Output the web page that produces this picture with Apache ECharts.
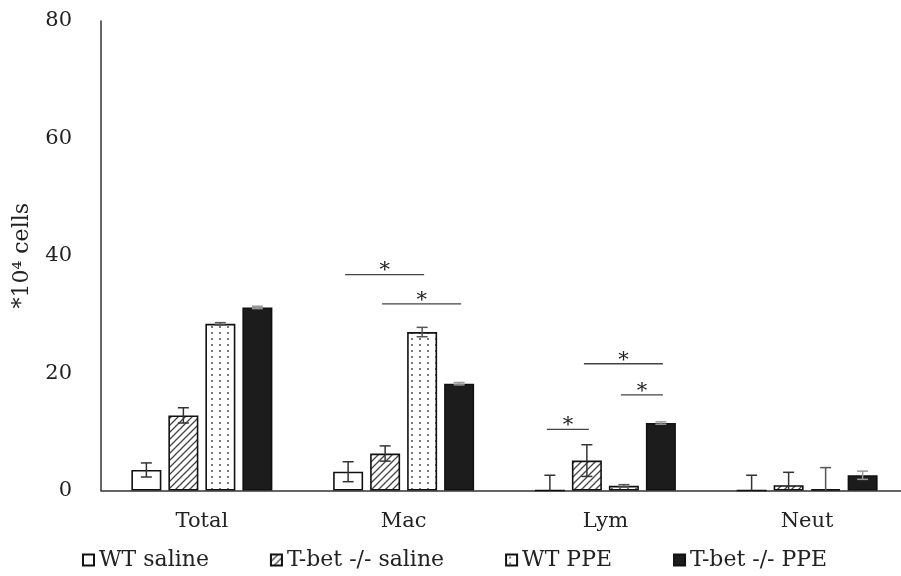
<!DOCTYPE html>
<html>
<head>
<meta charset="utf-8">
<script src="https://cdn.jsdelivr.net/npm/echarts@6/dist/echarts.min.js"></script>
<style>html,body{margin:0;padding:0;background:#fff;overflow:hidden}#c{width:908px;height:576px}</style>
</head>
<body>
<div id="c"></div>
<script>
// ---- data ----
const categories = ['Total', 'Mac', 'Lym', 'Neut'];
const seriesNames = ['WT saline', 'T-bet -/- saline', 'WT PPE', 'T-bet -/- PPE'];
const wtSaline = [3.5, 3.2, 0, 0];
const wtSalineErr = [1.2, 1.7, 2.6, 2.6];
const tbetSaline = [12.8, 6.3, 5.1, 0.9];
const tbetSalineErr = [1.3, 1.3, 2.7, 2.2];
const wtPPE = [28.4, 27.0, 0.8, 0.2];
const wtPPEErr = [0.2, 0.8, 0.2, 3.7];
const tbetPPE = [31.2, 18.2, 11.5, 2.6];
const tbetPPEErr = [0.2, 0.2, 0.2, 0.7];
// significance brackets: [category index, from bar, to bar, y level]
const sigBrackets = [[1, 0, 2, 36.8], [1, 1, 3, 31.8], [2, 0, 1, 10.4], [2, 1, 3, 21.6], [2, 2, 3, 16.3]];
const yMin = 0, yMax = 80, yStep = 20;

// ---- styles ----
const FONT = 'DejaVu Serif';
const BAR_W = 30, BAR_GAP = 7;
const offsets = [0, 1, 2, 3].map(i => (i - 1.5) * (BAR_W + BAR_GAP));

function makeCanvas(w, h, draw) {
  const c = document.createElement('canvas'); c.width = w; c.height = h;
  const g = c.getContext('2d'); g.fillStyle = '#fff'; g.fillRect(0, 0, w, h); draw(g); return c;
}
const hatch = makeCanvas(7, 7, g => {
  g.strokeStyle = '#444'; g.lineWidth = 1.3; g.beginPath();
  g.moveTo(-1, 8); g.lineTo(8, -1); g.moveTo(-1, 1); g.lineTo(1, -1); g.moveTo(6, 8); g.lineTo(8, 6); g.stroke();
});
const dots = makeCanvas(8, 6, g => { g.fillStyle = '#777'; g.fillRect(3, 2, 2, 2); });

const fills = ['#ffffff', { image: hatch, repeat: 'repeat' }, { image: dots, repeat: 'repeat' }, '#1c1c1c'];
const values = [wtSaline, tbetSaline, wtPPE, tbetPPE];
const errs = [wtSalineErr, tbetSalineErr, wtPPEErr, tbetPPEErr];
const errColors = ['#333', '#333', '#555', '#999'];

function errRender(idx) {
  return function (params, api) {
    const cat = api.value(0), v = api.value(1), e = api.value(2);
    const hi = api.coord([cat, v + e]);
    const lo = api.coord([cat, Math.max(0, v - e)]);
    const x = hi[0] + offsets[idx];
    const st = { stroke: errColors[idx], lineWidth: 1.5 };
    const ch = [
      { type: 'line', shape: { x1: x, y1: lo[1], x2: x, y2: hi[1] }, style: st },
      { type: 'line', shape: { x1: x - 5.5, y1: hi[1], x2: x + 5.5, y2: hi[1] }, style: st }
    ];
    if (v - e > 0) ch.push({ type: 'line', shape: { x1: x - 5.5, y1: lo[1], x2: x + 5.5, y2: lo[1] }, style: st });
    return { type: 'group', children: ch };
  };
}

const series = [];
seriesNames.forEach((n, i) => {
  series.push({
    name: n, type: 'bar', data: values[i], barWidth: BAR_W, barGap: (BAR_GAP / BAR_W * 100) + '%',
    itemStyle: { color: fills[i], borderColor: '#111', borderWidth: 1.6 }, z: 2
  });
});
seriesNames.forEach((n, i) => {
  series.push({
    type: 'custom', renderItem: errRender(i), z: 5, silent: true,
    data: categories.map((c, k) => [k, values[i][k], errs[i][k]]), encode: { x: 0, y: 1 }
  });
});
series.push({
  type: 'custom', z: 6, silent: true,
  data: sigBrackets,
  encode: { x: 0, y: 3 },
  renderItem: function (params, api) {
    const cat = api.value(0), a = api.value(1), b = api.value(2), yv = api.value(3);
    const p = api.coord([cat, yv]);
    const x1 = p[0] + offsets[a] - 3, x2 = p[0] + offsets[b] + 2;
    return {
      type: 'group', children: [
        { type: 'line', shape: { x1: x1, y1: p[1], x2: x2, y2: p[1] }, style: { stroke: '#444', lineWidth: 1.3 } },
        { type: 'text', style: { text: '*', x: (x1 + x2) / 2, y: p[1] + 7, align: 'center', verticalAlign: 'bottom', font: '21px "' + FONT + '"', fill: '#222' } }
      ]
    };
  }
});

const chart = echarts.init(document.getElementById('c'), null, { renderer: 'canvas' });
chart.setOption({
  animation: false,
  backgroundColor: '#fff',
  textStyle: { fontFamily: FONT, color: '#222' },
  grid: { left: 101, top: 21, right: 0, bottom: 85.5 },
  legend: {
    data: seriesNames, left: 82, top: 549, padding: 0, icon: 'rect', itemWidth: 11, itemHeight: 11, itemGap: 61,
    textStyle: { fontFamily: FONT, fontSize: 22, color: '#222' }
  },
  xAxis: {
    type: 'category', data: categories,
    axisLine: { lineStyle: { color: '#333', width: 1.5 } }, axisTick: { show: false },
    axisLabel: { fontFamily: FONT, fontSize: 21, color: '#222', margin: 21 }
  },
  yAxis: {
    type: 'value', min: yMin, max: yMax, interval: yStep,
    name: '*10⁴ cells', nameLocation: 'middle', nameRotate: 90, nameGap: 68,
    nameTextStyle: { fontFamily: FONT, fontSize: 22, color: '#222' },
    axisLine: { show: true, lineStyle: { color: '#333', width: 1.5 } }, axisTick: { show: false },
    splitLine: { show: false },
    axisLabel: { fontFamily: FONT, fontSize: 21, color: '#222', margin: 29 }
  },
  series: series
});
</script>
</body>
</html>
